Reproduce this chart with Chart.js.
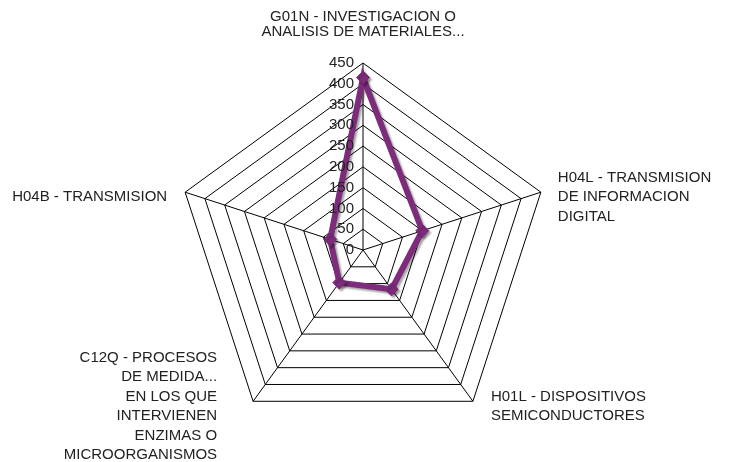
<!DOCTYPE html>
<html>
<head>
<meta charset="utf-8">
<script src="https://cdn.jsdelivr.net/npm/chart.js@4"></script>
<style>
  html, body { margin: 0; padding: 0; background: #fff; }
  #wrap { width: 732px; height: 462px; }
</style>
</head>
<body>
<div id="wrap"><canvas id="radarChart" width="732" height="462"></canvas></div>
<script>
// categorias (cada eje del radar)
const categories = [
  ["G01N - INVESTIGACION O", "ANALISIS DE MATERIALES..."],
  ["H04L - TRANSMISION", "DE INFORMACION", "DIGITAL"],
  ["H01L - DISPOSITIVOS", "SEMICONDUCTORES"],
  ["C12Q - PROCESOS", "DE MEDIDA...", "EN LOS QUE", "INTERVIENEN", "ENZIMAS O", "MICROORGANISMOS"],
  ["H04B - TRANSMISION"]
];
// valores
const seriesValues = [415, 150, 117, 97, 83];
// etiquetas de la escala
const tickLabels = [0, 50, 100, 150, 200, 250, 300, 350, 400, 450];

const lineColor = "#7d2b7b";
const textFont = "15px 'Liberation Sans', Arial, sans-serif";

// separacion horizontal de cada etiqueta respecto al vertice (px)
const labelGap = [0, 17, 18, 36, 18];

// etiquetas de los ejes y de la escala dibujadas a mano
const labelPlugin = {
  id: "labelPlugin",
  afterDraw(chart) {
    const r = chart.scales.r;
    const ctx = chart.ctx;
    ctx.save();
    ctx.font = textFont;
    ctx.fillStyle = "#222";
    ctx.textBaseline = "middle";

    // escala a la izquierda del eje vertical
    ctx.textAlign = "right";
    tickLabels.forEach(function (v) {
      const d = r.getDistanceFromCenterForValue(v);
      ctx.fillText(String(v), r.xCenter - 9, r.yCenter - d);
    });

    // nombres de categorias
    categories.forEach(function (lines, i) {
      const p = r.getPointPosition(i, r.drawingArea);
      if (Math.abs(p.x - r.xCenter) < 2) {
        // etiqueta superior, centrada encima del vertice
        const lh = 15;
        ctx.textAlign = "center";
        lines.forEach(function (t, k) {
          ctx.fillText(t, p.x, p.y - 31 - (lines.length - 1 - k) * lh);
        });
      } else {
        const lh = 19.4;
        const right = p.x > r.xCenter;
        ctx.textAlign = right ? "left" : "right";
        const x = right ? p.x + labelGap[i] : p.x - labelGap[i];
        const y0 = p.y + 5 - (lines.length - 1) * lh / 2;
        lines.forEach(function (t, k) {
          ctx.fillText(t, x, y0 + k * lh);
        });
      }
    });
    ctx.restore();
  }
};

// sombra de la linea
const shadowPlugin = {
  id: "shadowPlugin",
  beforeDatasetsDraw(chart) {
    const ctx = chart.ctx;
    ctx.save();
    ctx.shadowColor = "rgba(0,0,0,0.35)";
    ctx.shadowOffsetX = 2;
    ctx.shadowOffsetY = 2;
    ctx.shadowBlur = 2;
  },
  afterDatasetsDraw(chart) {
    chart.ctx.restore();
  }
};

const ctx = document.getElementById("radarChart").getContext("2d");
const myChart = new Chart(ctx, {
  type: "radar",
  data: {
    labels: categories,
    datasets: [
      {
        label: "Serie",
        data: seriesValues,
        borderColor: lineColor,
        backgroundColor: "rgba(0,0,0,0)",
        borderWidth: 6,
        pointStyle: "rectRot",
        pointRadius: 6.5,
        pointBackgroundColor: lineColor,
        pointBorderColor: lineColor,
        pointBorderWidth: 1,
        fill: false,
        tension: 0
      }
    ]
  },
  options: {
    responsive: false,
    animation: false,
    // area para que el centro quede en (363,250) con radio 187
    layout: { padding: { top: 63, bottom: 25, left: 176, right: 182 } },
    plugins: {
      legend: { display: false },
      tooltip: { enabled: false }
    },
    scales: {
      r: {
        min: 0,
        max: 450,
        beginAtZero: true,
        ticks: { stepSize: 50, display: false },
        grid: { circular: false, color: "#000", lineWidth: 1 },
        angleLines: { display: true, color: "#000", lineWidth: 1 },
        pointLabels: { display: false }
      }
    }
  },
  plugins: [shadowPlugin, labelPlugin]
});
</script>
</body>
</html>
